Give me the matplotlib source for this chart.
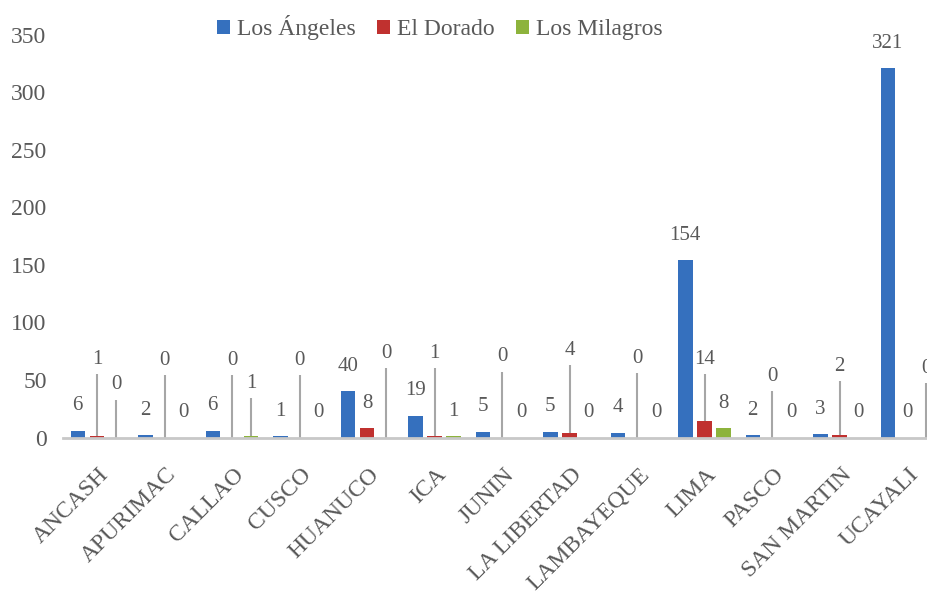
import numpy as np
import matplotlib
matplotlib.use('Agg')
import matplotlib.pyplot as plt

plt.rcParams['font.family'] = ['Liberation Serif', 'DejaVu Serif']

regions = ['ANCASH', 'APURIMAC', 'CALLAO', 'CUSCO', 'HUANUCO', 'ICA', 'JUNIN',
           'LA LIBERTAD', 'LAMBAYEQUE', 'LIMA', 'PASCO', 'SAN MARTIN', 'UCAYALI']
series = ['Los Ángeles', 'El Dorado', 'Los Milagros']
los_angeles = [6, 2, 6, 1, 40, 19, 5, 5, 4, 154, 2, 3, 321]
el_dorado = [1, 0, 0, 0, 8, 1, 0, 4, 0, 14, 0, 2, 0]
los_milagros = [0, 0, 1, 0, 0, 1, 0, 0, 0, 8, 0, 0, 0]

# labels Excel pulled up with a leader line: (region index, label height)
red_callouts = {0: 68, 1: 67, 2: 67, 3: 67, 5: 73, 6: 70, 7: 76, 8: 69,
                9: 68, 10: 53, 11: 62}
green_callouts = {0: 46, 2: 47, 4: 73, 12: 60}

colors = ['#3570BE', '#C0312F', '#8DB33C']
txt = '#595959'

fig = plt.figure(figsize=(9.28, 5.92), dpi=100)
ax = fig.add_axes([63.25 / 928, 1 - 437.5 / 592, 877.5 / 928, 402.75 / 592])

x = np.arange(len(regions))
w = 0.215
off = 0.285
values = [los_angeles, el_dorado, los_milagros]
callouts = [{}, red_callouts, green_callouts]
for k, (vals, col, name) in enumerate(zip(values, colors, series)):
    xs = x + (k - 1) * off
    ax.bar(xs, vals, width=w, color=col, label=name, zorder=2)
    for xi, v, i in zip(xs, vals, range(len(vals))):
        if i in callouts[k]:
            ly = callouts[k][i]
            ax.vlines(xi, v, ly - 13, color='#A6A6A6', lw=1.5, zorder=1)
            ax.text(xi, ly, str(v), ha='center', va='center', fontsize=15, color=txt)
        else:
            ax.annotate(str(v), xy=(xi, v), xytext=(0, 18), textcoords='offset points',
                        ha='center', va='center', fontsize=15, color=txt)

ax.set_xlim(-0.5, len(regions) - 0.5)
ax.set_ylim(0, 350)
ax.set_yticks(range(0, 351, 50))
ax.tick_params(axis='y', length=0, labelsize=17, labelcolor=txt, pad=12)
ax.set_xticks(x)
ax.set_xticklabels([])
ax.tick_params(axis='x', length=0)
for i, name in enumerate(regions):
    ax.annotate(name, xy=(i, 0), xycoords=('data', 'axes fraction'),
                xytext=(1, -19), textcoords='offset points', rotation=45,
                ha='right', va='top', rotation_mode='anchor', fontsize=17, color=txt)

for s in ['top', 'right', 'left']:
    ax.spines[s].set_visible(False)
ax.spines['bottom'].set_color('#C8C8C8')
ax.spines['bottom'].set_linewidth(2)

fig.legend(loc='center', bbox_to_anchor=(0.474, 0.953), ncol=3, frameon=False,
           fontsize=17, labelcolor=txt, handlelength=0.55, handleheight=0.55,
           handletextpad=0.3, columnspacing=0.9)

plt.savefig('out.png', dpi=100)
plt.close()
